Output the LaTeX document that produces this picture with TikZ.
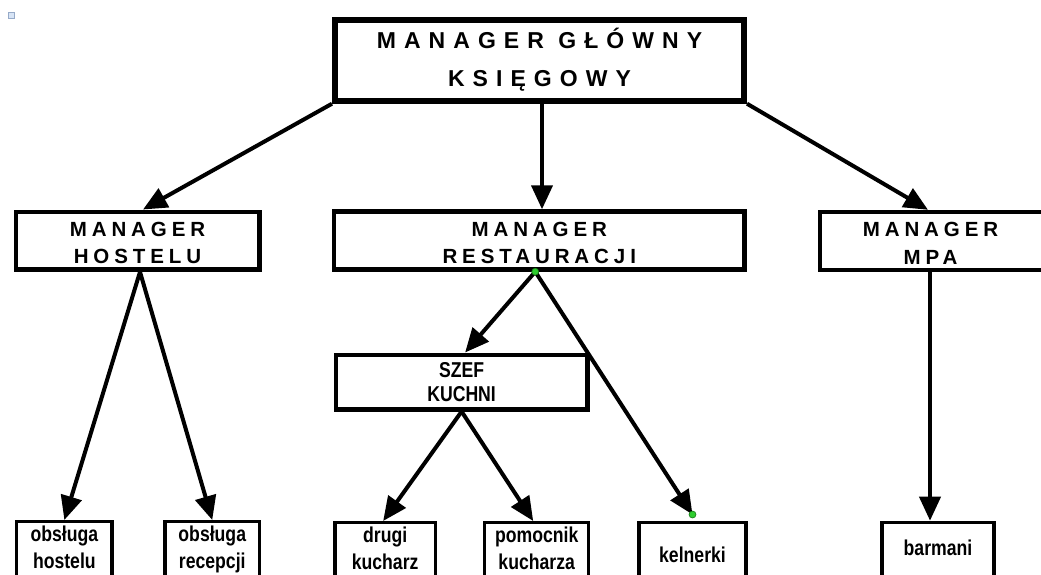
\documentclass[tikz,border=0pt]{standalone}
\usepackage{fontspec}
\setmainfont{Liberation Sans}
\newfontfamily\spacedtop[LetterSpace=35]{Liberation Sans}
\newfontfamily\spacedmid[LetterSpace=24]{Liberation Sans}
\newfontfamily\narrowf[FakeStretch=0.82]{Liberation Sans}
\usetikzlibrary{arrows.meta}
\definecolor{dotgreen}{RGB}{46,204,46}
\definecolor{dotedge}{RGB}{20,120,20}
\definecolor{iconedge}{RGB}{150,170,200}
\definecolor{iconfill}{RGB}{215,228,245}
\newcommand\hstrutA[1]{\rule{0pt}{#1}}
\newcommand\dstrutA[1]{\rule[-#1]{0pt}{#1}}
\tikzset{
  topbox/.style={draw, line width=6pt, minimum width=409pt, minimum height=80.4pt, inner sep=0pt, align=center,
    font=\spacedtop\bfseries\fontsize{23}{38.4}\selectfont},
  midbox/.style={draw, line width=4.6pt, minimum height=57.8pt, inner sep=0pt, align=center,
    font=\spacedmid\bfseries\fontsize{20.5}{27.3}\selectfont},
  szefbox/.style={draw, line width=4.5pt, minimum width=251.7pt, minimum height=54.5pt, inner sep=0pt, align=center,
    font=\narrowf\bfseries\fontsize{21.5}{24.4}\selectfont},
  leafbox/.style={draw, line width=3.3pt, anchor=north, minimum height=58pt, inner sep=0pt, align=center,
    font=\narrowf\bfseries\fontsize{21.5}{26.7}\selectfont},
  arr/.style={line width=4pt, -{Triangle[length=24pt,width=21pt]}},
  gdot/.style={circle, fill=dotgreen, draw=dotedge, line width=0.6pt, inner sep=0pt, minimum size=7pt},
}
\begin{document}
\begin{tikzpicture}[x=1pt,y=-1pt]
\path[use as bounding box] (0,0) rectangle (1041,574);
\clip (0,0) rectangle (1041,574);
\fill[white] (0,0) rectangle (1041,574);
% small broken-image icon
\draw[draw=iconedge, fill=iconfill, line width=0.6pt] (8,12) rectangle (14,18);

% boxes
\node[topbox] (top) at (539.5,60.5) {\hstrutA{23pt}MANAGER GŁÓWNY\\KSIĘGOWY\dstrutA{9pt}};
\node[midbox, minimum width=243.4pt] (hos) at (137.5,240.7) {\hstrutA{20pt}MANAGER\\HOSTELU\dstrutA{1.1pt}};
\node[midbox, minimum width=410.5pt] (res) at (539.25,240.5) {\hstrutA{20pt}MANAGER\\RESTAURACJI\dstrutA{1.1pt}};
\node[midbox, minimum width=230pt] (mpa) at (935,241) {\hstrutA{20pt}MANAGER\kern9pt\\MPA\kern9pt\dstrutA{1.1pt}};
\node[szefbox] (szef) at (461.6,382) {SZEF\\KUCHNI};
\node[leafbox, minimum width=95.3pt] (oh) at (64.35,520) {\hstrutA{16pt}obsługa\\hostelu\dstrutA{7.3pt}};
\node[leafbox, minimum width=94.5pt] (or) at (212.25,520) {\hstrutA{16pt}obsługa\\recepcji\dstrutA{7.3pt}};
\node[leafbox, minimum width=100.3pt] (dk) at (385.15,521) {\hstrutA{16pt}drugi\\kucharz\dstrutA{7.3pt}};
\node[leafbox, minimum width=104pt] (pk) at (536.7,521) {\hstrutA{16pt}pomocnik\\kucharza\dstrutA{7.3pt}};
\node[leafbox, minimum width=107pt, minimum height=60pt, text height=20pt, text depth=0pt] (ke) at (692.5,521) {kelnerki};
\node[leafbox, minimum width=112pt, minimum height=60pt, text height=15.3pt, text depth=8.1pt] (ba) at (938,520.7) {barmani};

% connectors
\draw[arr] (top.south west) -- ([xshift=5.5pt]hos.north);
\draw[arr] ([xshift=2.5pt]top.south) -- ([xshift=2.75pt]res.north);
\draw[arr] (top.south east) -- ([xshift=-7pt]mpa.north);

\draw[arr] ([xshift=2.5pt]hos.south) -- (oh.north);
\draw[arr] ([xshift=2.5pt]hos.south) -- (or.north);

\draw[arr] ([xshift=-4pt]res.south) -- ([xshift=3.5pt]szef.north);
\draw[arr] ([xshift=-4pt]res.south) -- ([yshift=6.5pt]ke.north);

\draw[arr] (szef.south) -- ([xshift=-2pt]dk.north);
\draw[arr] (szef.south) -- ([xshift=-3.5pt]pk.north);

\draw[arr] ([xshift=-5pt]mpa.south) -- ([xshift=-8pt]ba.north);

% green handle dots
\node[gdot] (g1) at ([xshift=-4pt]res.south) {};
\node[gdot] (g2) at ([yshift=6.5pt]ke.north) {};
\end{tikzpicture}
\end{document}
